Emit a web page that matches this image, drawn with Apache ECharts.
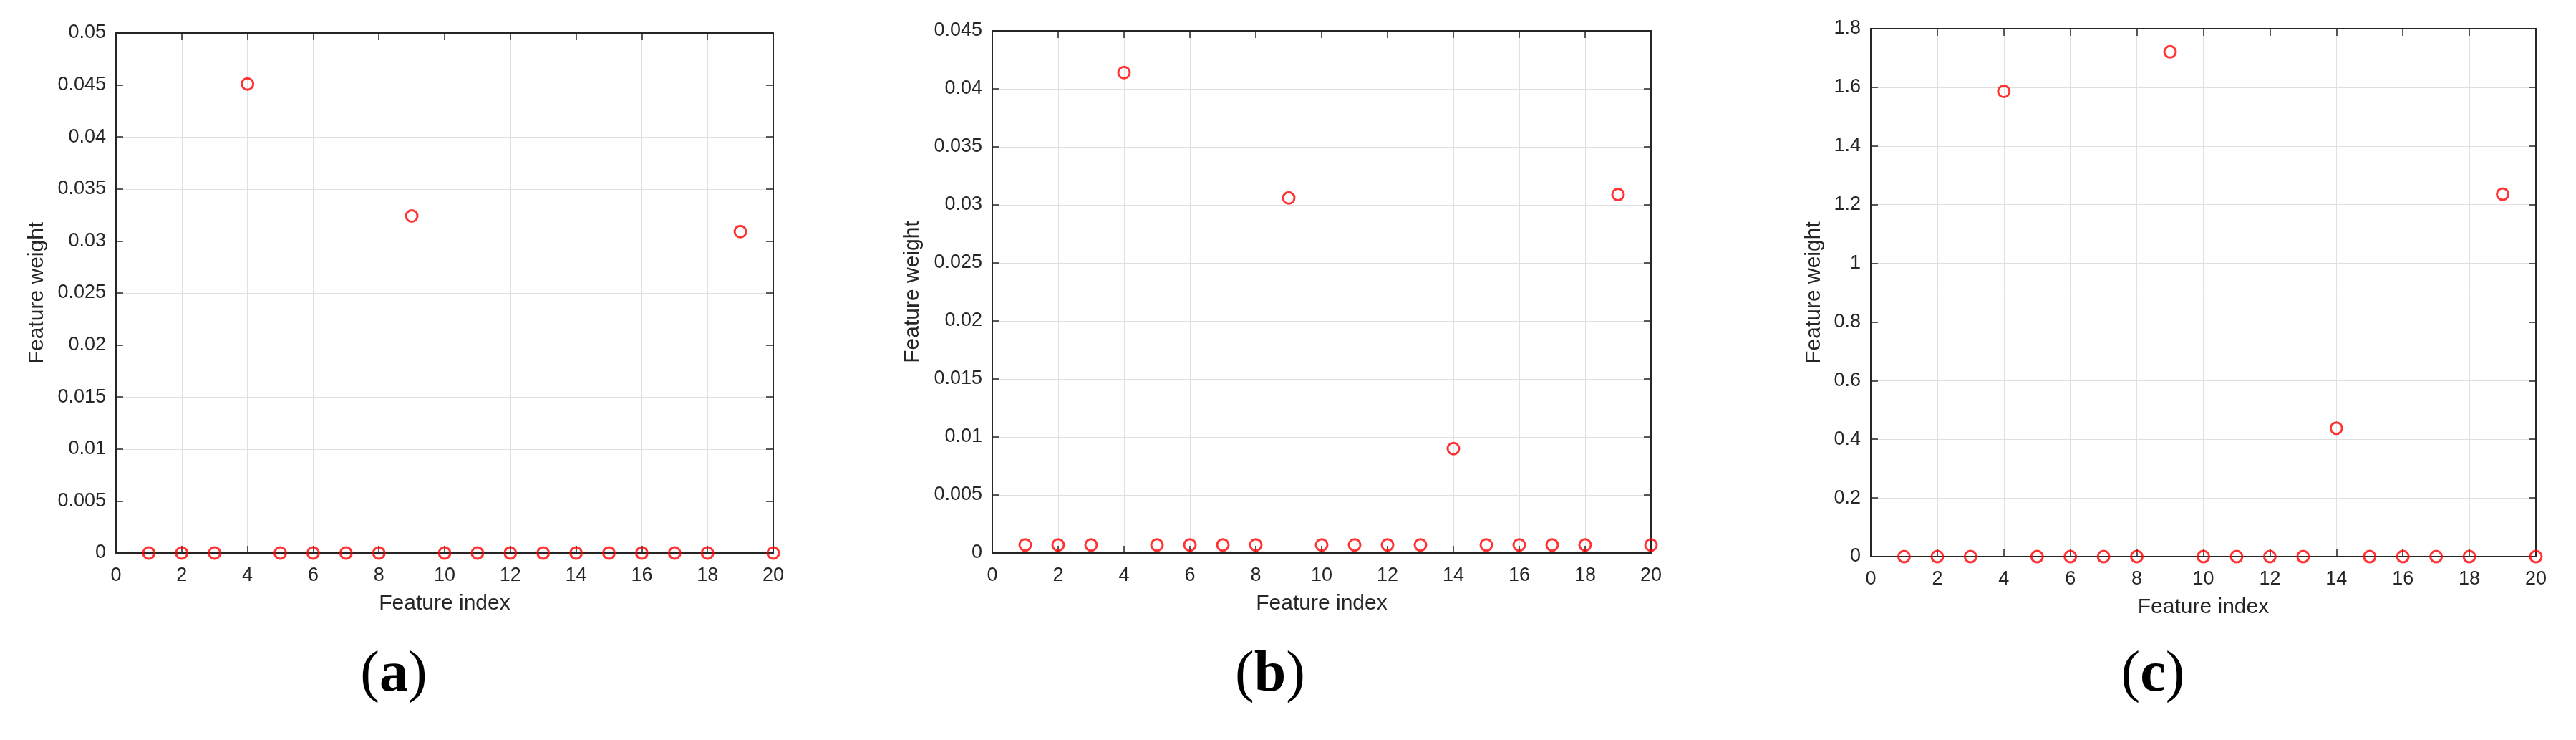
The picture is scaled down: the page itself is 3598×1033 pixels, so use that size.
<!DOCTYPE html>
<html>
<head>
<meta charset="utf-8">
<title>Feature weight</title>
<script src="https://cdn.jsdelivr.net/npm/echarts@6/dist/echarts.min.js"></script>
<style>
  html, body { margin: 0; padding: 0; background: #fff; }
  #chart { width: 3598px; height: 1033px; }
</style>
</head>
<body>
<div id="chart"></div>
<script>
// data
const featureIndex = [1, 2, 3, 4, 5, 6, 7, 8, 9, 10, 11, 12, 13, 14, 15, 16, 17, 18, 19, 20]
const weightsA = [0, 0, 0, 0.0451, 0, 0, 0, 0, 0.0324, 0, 0, 0, 0, 0, 0, 0, 0, 0, 0.0309, 0]
const weightsB = [0.0007, 0.0007, 0.0007, 0.0414, 0.0007, 0.0007, 0.0007, 0.0007, 0.0306, 0.0007,
  0.0007, 0.0007, 0.0007, 0.0090, 0.0007, 0.0007, 0.0007, 0.0007, 0.0309, 0.0007]
const weightsC = [0, 0, 0, 1.586, 0, 0, 0, 0, 1.721, 0, 0, 0, 0, 0.438, 0, 0, 0, 0, 1.236, 0]
const xRange = [0, 20]
const xStep = 2
const yMax = [0.05, 0.045, 1.8]
const yStep = [0.005, 0.005, 0.2]
const panelLabels = ['a', 'b', 'c']

const allWeights = [weightsA, weightsB, weightsC]

// layout (px)
const grids = [
  { left: 162, top: 46, width: 918, height: 726 },
  { left: 1386, top: 43, width: 920, height: 729 },
  { left: 2613, top: 40, width: 929, height: 737 }
]
const yNameGap = [95, 96, 64]
const labelPos = [[550, 943], [1774, 943], [3007, 943]]

const ink = '#262626'
const font = 'Liberation Sans, Arial, Helvetica, sans-serif'

const xAxes = []
const yAxes = []
const series = []

grids.forEach((g, i) => {
  // bottom / left axes with labels
  xAxes.push({
    type: 'value',
    gridIndex: i,
    min: xRange[0],
    max: xRange[1],
    interval: xStep,
    name: 'Feature index',
    nameLocation: 'middle',
    nameGap: 56,
    nameTextStyle: { fontSize: 30, color: ink, fontFamily: font },
    axisLine: { show: true, onZero: false, lineStyle: { color: ink, width: 2 } },
    axisTick: { show: true, inside: true, length: 10, lineStyle: { color: ink, width: 1.5 } },
    axisLabel: { fontSize: 27, color: ink, fontFamily: font, margin: 18 },
    splitLine: { show: true, lineStyle: { color: '#e0e0e0', width: 1 } }
  })
  yAxes.push({
    type: 'value',
    gridIndex: i,
    min: 0,
    max: yMax[i],
    interval: yStep[i],
    name: 'Feature weight',
    nameLocation: 'middle',
    nameRotate: 90,
    nameGap: yNameGap[i],
    nameTextStyle: { fontSize: 30, color: ink, fontFamily: font },
    axisLine: { show: true, onZero: false, lineStyle: { color: ink, width: 2 } },
    axisTick: { show: true, inside: true, length: 10, lineStyle: { color: ink, width: 1.5 } },
    axisLabel: { fontSize: 27, color: ink, fontFamily: font, margin: 14 },
    splitLine: { show: true, lineStyle: { color: '#e0e0e0', width: 1 } }
  })
  // mirrored top / right axes to close the box
  xAxes.push({
    type: 'value',
    gridIndex: i,
    position: 'top',
    min: xRange[0],
    max: xRange[1],
    interval: xStep,
    axisLine: { show: true, onZero: false, lineStyle: { color: ink, width: 2 } },
    axisTick: { show: true, inside: true, length: 10, lineStyle: { color: ink, width: 1.5 } },
    axisLabel: { show: false },
    splitLine: { show: false }
  })
  yAxes.push({
    type: 'value',
    gridIndex: i,
    position: 'right',
    min: 0,
    max: yMax[i],
    interval: yStep[i],
    axisLine: { show: true, onZero: false, lineStyle: { color: ink, width: 2 } },
    axisTick: { show: true, inside: true, length: 10, lineStyle: { color: ink, width: 1.5 } },
    axisLabel: { show: false },
    splitLine: { show: false }
  })

  series.push({
    type: 'scatter',
    xAxisIndex: i * 2,
    yAxisIndex: i * 2,
    clip: false,
    symbol: 'circle',
    symbolSize: 16,
    z: 5,
    itemStyle: { color: 'rgba(0,0,0,0)', borderColor: '#ff0000', borderWidth: 3 },
    data: featureIndex.map((x, k) => [x, allWeights[i][k]])
  })
})

const graphic = panelLabels.map((p, i) => ({
  type: 'text',
  x: labelPos[i][0],
  y: labelPos[i][1],
  style: {
    text: '(' + '{b|' + p + '})',
    align: 'center',
    verticalAlign: 'middle',
    fontSize: 80,
    fontFamily: 'Liberation Serif, Times New Roman, serif',
    fill: '#000',
    rich: {
      b: { fontSize: 80, fontWeight: 'bold', fontFamily: 'Liberation Serif, Times New Roman, serif', fill: '#000' }
    }
  }
}))

const chart = echarts.init(document.getElementById('chart'), null, { renderer: 'canvas' })
chart.setOption({
  backgroundColor: '#ffffff',
  animation: false,
  grid: grids,
  xAxis: xAxes,
  yAxis: yAxes,
  series: series,
  graphic: graphic
})

window.addEventListener('resize', () => chart.resize())
</script>
</body>
</html>
